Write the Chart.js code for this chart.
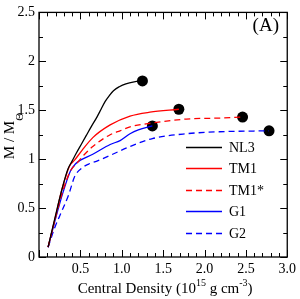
<!DOCTYPE html>
<html>
<head>
<meta charset="utf-8">
<script src="https://cdn.jsdelivr.net/npm/chart.js@4"></script>
<style>
  body { margin: 0; background: #fff; }
  #wrap { width: 300px; height: 299px; }
</style>
</head>
<body>
<div id="wrap"><canvas id="myChart"></canvas></div>
<script>
// central density (10^15 g cm^-3) and mass (M/Msun)
var nl3Dens = [0.11, 0.19, 0.28, 0.35, 0.40, 0.45, 0.51, 0.57, 0.63, 0.70, 0.75, 0.80, 0.85, 0.90, 0.97, 1.05, 1.15, 1.25];
var nl3Mass = [0.10, 0.39, 0.70, 0.90, 0.98, 1.06, 1.15, 1.24, 1.33, 1.43, 1.51, 1.59, 1.65, 1.70, 1.74, 1.77, 1.79, 1.80];

var tm1Dens = [0.11, 0.19, 0.28, 0.37, 0.43, 0.52, 0.65, 0.86, 1.10, 1.34, 1.69];
var tm1Mass = [0.10, 0.38, 0.70, 0.93, 0.99, 1.09, 1.22, 1.35, 1.44, 1.48, 1.51];

var tm1sDens = [0.11, 0.19, 0.29, 0.38, 0.46, 0.54, 0.65, 0.86, 0.98, 1.10, 1.37, 1.78, 2.18, 2.46];
var tm1sMass = [0.10, 0.37, 0.68, 0.88, 0.96, 1.04, 1.13, 1.25, 1.29, 1.33, 1.37, 1.41, 1.42, 1.43];

var g1Dens = [0.11, 0.19, 0.29, 0.38, 0.44, 0.50, 0.65, 0.86, 0.98, 1.10, 1.20, 1.37];
var g1Mass = [0.10, 0.36, 0.66, 0.88, 0.95, 0.99, 1.05, 1.15, 1.19, 1.26, 1.30, 1.34];

var g2Dens = [0.11, 0.19, 0.25, 0.36, 0.43, 0.52, 0.60, 0.70, 0.89, 1.10, 1.37, 1.78, 2.18, 2.78];
var g2Mass = [0.10, 0.30, 0.42, 0.64, 0.82, 0.91, 0.95, 0.98, 1.05, 1.13, 1.21, 1.26, 1.28, 1.29];

var seriesNames = ['NL3', 'TM1', 'TM1*', 'G1', 'G2'];
var xTickLabels = ['0.5', '1.0', '1.5', '2.0', '2.5', '3.0'];

var serif = '"Liberation Serif", "DejaVu Serif", serif';

function pts(xs, ys) {
    var out = [];
    for (var i = 0; i < xs.length; i++) {
        out.push({x: xs[i], y: ys[i]});
    }
    return out;
}

function curve(label, xs, ys, color, dash) {
    return {
        type: 'line',
        label: label,
        data: pts(xs, ys),
        borderColor: color,
        backgroundColor: color,
        borderWidth: 1.3,
        borderDash: dash,
        pointRadius: 0,
        fill: false,
        cubicInterpolationMode: 'monotone'
    };
}

var allX = [nl3Dens, tm1Dens, tm1sDens, g1Dens, g2Dens];
var allY = [nl3Mass, tm1Mass, tm1sMass, g1Mass, g2Mass];
var endPoints = [];
for (var i = 0; i < allX.length; i++) {
    endPoints.push({x: allX[i][allX[i].length - 1], y: allY[i][allY[i].length - 1]});
}

var datasets = [
    curve(seriesNames[0], nl3Dens, nl3Mass, '#000000', []),
    curve(seriesNames[1], tm1Dens, tm1Mass, '#ff0000', []),
    curve(seriesNames[2], tm1sDens, tm1sMass, '#ff0000', [6, 4]),
    curve(seriesNames[3], g1Dens, g1Mass, '#0000ff', []),
    curve(seriesNames[4], g2Dens, g2Mass, '#0000ff', [6, 4]),
    {
        type: 'scatter',
        label: 'max',
        data: endPoints,
        pointRadius: 5.5,
        pointBackgroundColor: '#000',
        pointBorderColor: '#000',
        borderWidth: 0
    }
];

// inside ticks, frame, legend, titles
var decor = {
    id: 'decor',
    afterDraw: function (chart) {
        var ctx = chart.ctx;
        var a = chart.chartArea;
        var xs = chart.scales.x, ys = chart.scales.y;
        ctx.save();
        ctx.strokeStyle = '#000';
        ctx.lineWidth = 1.3;
        ctx.strokeRect(a.left, a.top, a.right - a.left, a.bottom - a.top);

        ctx.lineWidth = 1;
        ctx.beginPath();
        for (var k = 0; k <= 30; k++) {
            var px = Math.round(xs.getPixelForValue(k / 10)) + 0.5;
            var len = (k % 5 === 0) ? 7 : 4;
            ctx.moveTo(px, a.bottom); ctx.lineTo(px, a.bottom - len);
            ctx.moveTo(px, a.top); ctx.lineTo(px, a.top + len);
        }
        for (var j = 0; j <= 10; j++) {
            var py = Math.round(ys.getPixelForValue(j * 0.25)) + 0.5;
            var l2 = (j % 2 === 0) ? 7 : 4;
            ctx.moveTo(a.left, py); ctx.lineTo(a.left + l2, py);
            ctx.moveTo(a.right, py); ctx.lineTo(a.right - l2, py);
        }
        ctx.stroke();

        // legend
        var rows = [147, 168, 190, 211, 233];
        ctx.font = '14px ' + serif;
        ctx.textBaseline = 'middle';
        ctx.fillStyle = '#000';
        for (var r = 0; r < 5; r++) {
            var ds = chart.data.datasets[r];
            ctx.beginPath();
            ctx.strokeStyle = ds.borderColor;
            ctx.lineWidth = 1.5;
            ctx.setLineDash(ds.borderDash);
            ctx.moveTo(186, rows[r] + 0.5);
            ctx.lineTo(222, rows[r] + 0.5);
            ctx.stroke();
            ctx.setLineDash([]);
            ctx.fillText(ds.label, 229, rows[r] + 1);
        }

        // panel label
        ctx.font = '19px ' + serif;
        ctx.textAlign = 'right';
        ctx.fillText('(A)', 279, 26);

        // x title with superscripts
        ctx.textAlign = 'left';
        ctx.textBaseline = 'alphabetic';
        var parts = [['Central Density (10', 15, 0], ['15', 10, -7], [' g cm', 15, 0], ['-3', 10, -7], [')', 15, 0]];
        var total = 0;
        parts.forEach(function (p) { ctx.font = p[1] + 'px ' + serif; total += ctx.measureText(p[0]).width; });
        var cx = (a.left + a.right) / 2 - total / 2 + 2;
        parts.forEach(function (p) {
            ctx.font = p[1] + 'px ' + serif;
            ctx.fillText(p[0], cx, 293 + p[2]);
            cx += ctx.measureText(p[0]).width;
        });

        // y title rotated with subscript
        ctx.translate(14, 136);
        ctx.rotate(-Math.PI / 2);
        var yparts = [['M / M', 15, 0], ['\u0398', 11, 9]];
        total = 0;
        yparts.forEach(function (p) { ctx.font = p[1] + 'px ' + serif; total += ctx.measureText(p[0]).width; });
        var cy = -total / 2;
        yparts.forEach(function (p) {
            ctx.font = p[1] + 'px ' + serif;
            ctx.fillText(p[0], cy, p[2]);
            cy += ctx.measureText(p[0]).width;
        });
        ctx.restore();
    }
};

var ctx = document.getElementById('myChart');
var chart = new Chart(ctx, {
    data: { datasets: datasets },
    options: {
        responsive: true,
        maintainAspectRatio: false,
        animation: false,
        layout: { padding: { left: 0, right: 12, top: 6, bottom: 0 } },
        plugins: { legend: { display: false }, tooltip: { enabled: false } },
        scales: {
            x: {
                type: 'linear',
                min: 0,
                max: 3,
                grid: { display: false, drawTicks: false },
                border: { display: false },
                afterFit: function (s) { s.height = 42; },
                ticks: {
                    stepSize: 0.5,
                    padding: 4,
                    color: '#000',
                    font: { family: serif, size: 14 },
                    maxRotation: 0,
                    callback: function (v) {
                        var idx = Math.round(v / 0.5) - 1;
                        return idx >= 0 ? xTickLabels[idx] : '';
                    }
                }
            },
            y: {
                type: 'linear',
                min: 0,
                max: 2.5,
                grid: { display: false, drawTicks: false },
                border: { display: false },
                afterFit: function (s) { s.width = 39; },
                ticks: {
                    stepSize: 0.5,
                    padding: 4,
                    color: '#000',
                    font: { family: serif, size: 14 },
                    callback: function (v) { return String(v); }
                }
            }
        }
    },
    plugins: [decor]
});
</script>
</body>
</html>
